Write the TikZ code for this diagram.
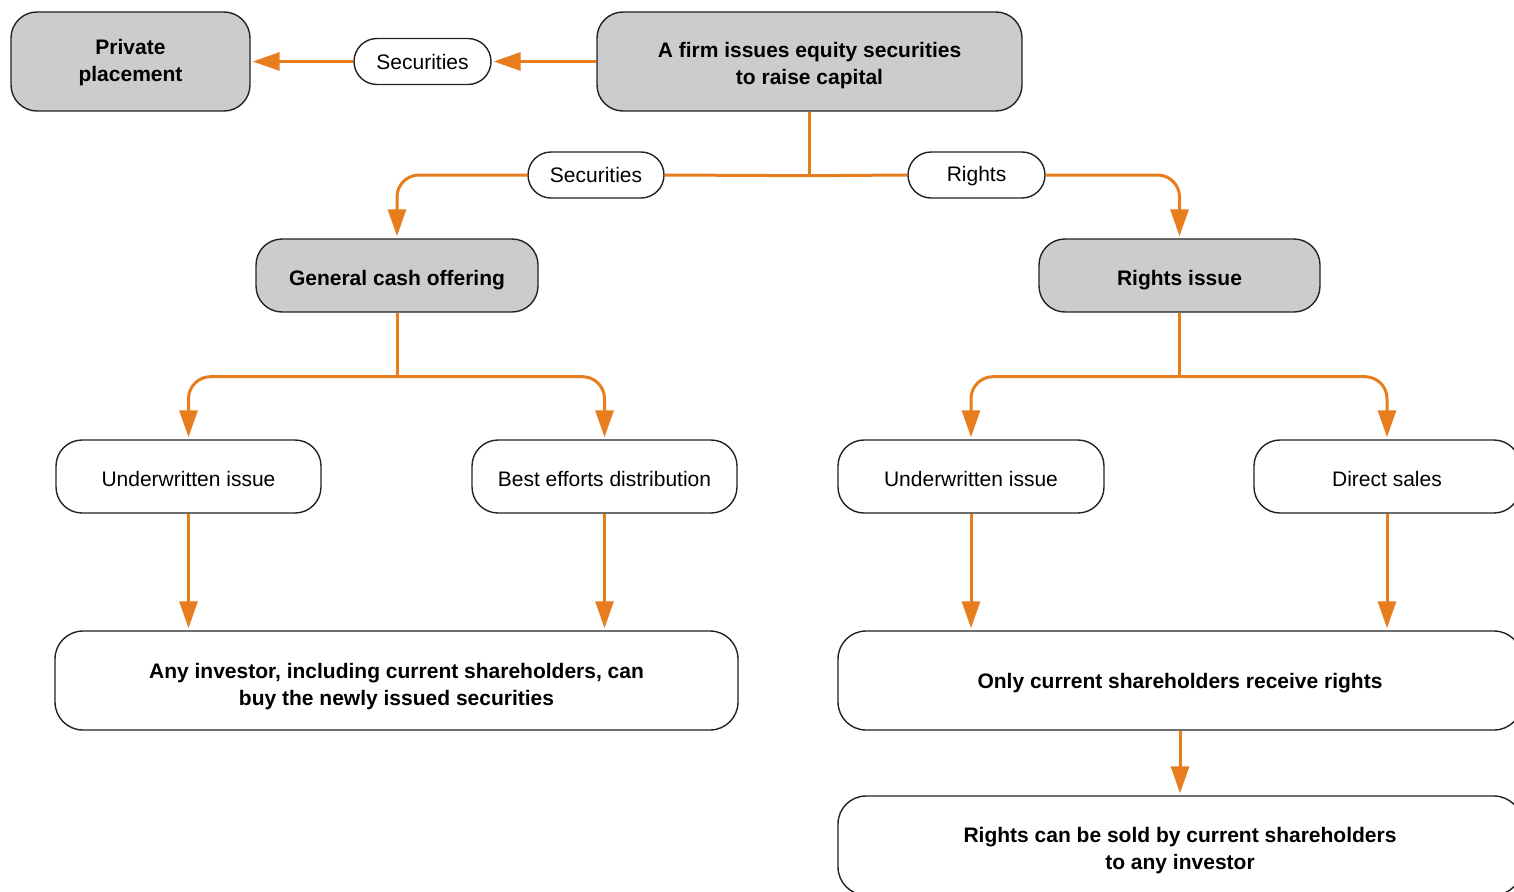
\documentclass[tikz,border=0pt]{standalone}
\usepackage{fontspec}
\setmainfont{Liberation Sans}
\usetikzlibrary{arrows.meta}
\definecolor{boxgray}{HTML}{CCCCCC}
\definecolor{flow}{HTML}{E87D1E}
\definecolor{edge}{HTML}{222222}
\newcommand\dn[2]{\raisebox{-#1}[\height][\depth]{\begin{tabular}{@{}c@{}}#2\end{tabular}}}
\tikzset{
  base/.style={draw=edge, line width=1.4pt, align=center, inner sep=0pt,
    font=\fontsize{21}{27}\selectfont},
  graybox/.style={base, fill=boxgray, rounded corners=26pt, font=\fontsize{21}{27}\selectfont\bfseries},
  whitebox/.style={base, fill=white, rounded corners=26pt},
  boldbox/.style={base, fill=white, rounded corners=28pt, font=\fontsize{21}{27}\selectfont\bfseries},
  pill/.style={base, fill=white, rounded corners=23pt, minimum height=46pt},
  flowline/.style={draw=flow, line width=3pt},
  flowarr/.style={flowline, -{Triangle[length=27pt,width=18pt]}, shorten >=2pt},
}
\begin{document}
\begin{tikzpicture}[x=1pt,y=-1pt]
\useasboundingbox (0,0) rectangle (1514,891);
\clip (0,0) rectangle (1514,891);
% nodes
\node[graybox, minimum width=239pt, minimum height=99pt] (pp) at (130.5,61.5) {\dn{1.5pt}{Private\\placement}};
\node[pill, minimum width=137pt] (s1) at (422.5,61.5) {Securities};
\node[graybox, minimum width=425pt, minimum height=99pt] (top) at (809.5,61.5) {\dn{4pt}{A firm issues equity securities\\to raise capital}};
\node[pill, minimum width=136pt] (s2) at (596,175) {Securities};
\node[pill, minimum width=137pt] (r1) at (976.5,175) {\dn{1pt}{Rights}};
\node[graybox, minimum width=282pt, minimum height=73pt] (gco) at (397,275.5) {\dn{5pt}{General cash offering}};
\node[graybox, minimum width=281pt, minimum height=73pt] (ri) at (1179.5,275.5) {\dn{5pt}{Rights issue}};
\node[whitebox, minimum width=265pt, minimum height=73pt] (uil) at (188.5,476.5) {\dn{5pt}{Underwritten issue}};
\node[whitebox, minimum width=265pt, minimum height=73pt] (bed) at (604.5,476.5) {\dn{5pt}{Best efforts distribution}};
\node[whitebox, minimum width=266pt, minimum height=73pt] (uir) at (971,476.5) {\dn{5pt}{Underwritten issue}};
\node[whitebox, minimum width=266pt, minimum height=73pt] (ds) at (1387,476.5) {\dn{5pt}{Direct sales}};
\node[boldbox, minimum width=683pt, minimum height=99pt] (any) at (396.5,680.5) {\dn{6pt}{Any investor, including current shareholders, can\\buy the newly issued securities}};
\node[boldbox, minimum width=684pt, minimum height=99pt] (only) at (1180,680.5) {\dn{3pt}{Only current shareholders receive rights}};
\node[boldbox, minimum width=684pt, minimum height=99pt] (sold) at (1180,845.5) {\dn{5pt}{Rights can be sold by current shareholders\\to any investor}};
% connectors
\draw[flowarr] (top.west) -- (s1.east);
\draw[flowarr] (s1.west) -- (pp.east);
\draw[flowline] (top.south) -- ++(0,64) coordinate (j1);
\draw[flowline] (j1) -- (s2.east);
\draw[flowline] (j1) -- (r1.west);
\draw[flowarr, rounded corners=22pt] (s2.west) -| (gco.north);
\draw[flowarr, rounded corners=22pt] (r1.east) -| (ri.north);
\draw[flowline] (gco.south) -- ++(0,64) coordinate (j2);
\draw[flowarr, rounded corners=22pt] (j2) -| (uil.north);
\draw[flowarr, rounded corners=22pt] (j2) -| (bed.north);
\draw[flowline] (ri.south) -- ++(0,64) coordinate (j3);
\draw[flowarr, rounded corners=22pt] (j3) -| (uir.north);
\draw[flowarr, rounded corners=22pt] (j3) -| (ds.north);
\draw[flowarr] (uil.south) -- (uil.south |- any.north);
\draw[flowarr] (bed.south) -- (bed.south |- any.north);
\draw[flowarr] (uir.south) -- (uir.south |- only.north);
\draw[flowarr] (ds.south) -- (ds.south |- only.north);
\draw[flowarr] (only.south) -- (sold.north);
\end{tikzpicture}
\end{document}
